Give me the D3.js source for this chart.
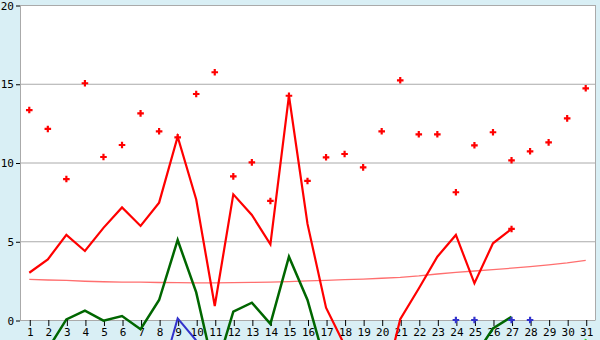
<!DOCTYPE html>
<html>
<head>
<meta charset="utf-8">
<script src="https://cdn.jsdelivr.net/npm/d3@7"></script>
<style>
  body { margin: 0; background: #d9eff5; }
  svg { display: block; }
</style>
</head>
<body>
<div id="chart"></div>
<script>
const days = [1,2,3,4,5,6,7,8,9,10,11,12,13,14,15,16,17,18,19,20,21,22,23,24,25,26,27,28,29,30,31];
const yTicks = [0, 5, 10, 15, 20];

// red dots
const redPoints = [13.33,12.13,8.95,15.03,10.35,11.11,13.12,11.98,11.6,14.35,15.73,9.12,10.01,7.56,14.24,
  8.83,10.33,10.54,9.69,11.98,15.22,11.79,11.79,8.11,11.09,11.92,10.14,10.71,11.28,12.8,14.71];
// red line
const redLine = [3.0,3.85,5.4,4.38,5.85,7.15,5.97,7.45,11.64,7.65,0.89,7.98,6.67,4.8,14.24,6.1,0.78,
  -1.6,-3.5,-4.7,0.05,2.0,4.02,5.4,2.33,4.87,5.78,null,null,null,null];
// pink trend
const pinkLine = [2.58,2.54,2.51,2.46,2.43,2.41,2.40,2.38,2.37,2.36,2.36,2.37,2.39,2.41,2.44,2.48,2.52,
  2.56,2.60,2.65,2.71,2.80,2.92,3.02,3.11,3.20,3.29,3.39,3.50,3.63,3.79];
// green line
const greenLine = [null,-1.85,0.04,0.59,-0.04,0.25,-0.59,1.27,5.08,1.75,-3.4,0.53,1.1,-0.25,4.02,1.27,-2.9,
  null,null,null,null,null,null,null,-2.33,-0.53,0.21,null,null,null,null];
// blue line and blue marks
const blueLine = [null,null,null,null,null,null,null,-4.0,0.1,-1.3,null,null,null,null,null,null,null,
  null,null,null,null,null,null,null,null,null,null,null,null,null,null];
const blueMarks = [null,null,null,null,null,null,null,null,null,null,null,null,null,null,null,null,null,
  null,null,null,null,null,null,0,0,null,0,0,null,null,null];
// light green
const lightGreenLine = [null,null,null,null,null,null,null,null,null,null,null,null,null,null,null,null,null,
  null,null,null,null,null,null,null,null,null,null,null,null,-8,-1.2];

const layout = { width: 600, height: 340, left: 20, right: 595, top: 5, bottom: 320 };

const svg = d3.select("#chart").append("svg")
    .attr("width", layout.width)
    .attr("height", layout.height)
    .style("font-family", "'DejaVu Sans Mono', monospace")
    .style("font-size", "11px");

svg.append("rect").attr("width", layout.width).attr("height", layout.height).attr("fill", "#d9eff5");

let x = d3.scalePoint().domain(days).range([layout.left, layout.right]).padding(0.5);
let y = d3.scaleLinear().domain([0, 20]).range([layout.bottom, layout.top]);

// plot area
svg.append("rect")
    .attr("x", layout.left).attr("y", layout.top)
    .attr("width", layout.right - layout.left).attr("height", layout.bottom - layout.top)
    .attr("fill", "white");

// grid lines
svg.append("g").selectAll("line").data(yTicks.filter(d => d > 0)).join("line")
    .attr("x1", layout.left).attr("x2", layout.right)
    .attr("y1", d => y(d) + 0.5).attr("y2", d => y(d) + 0.5)
    .attr("stroke", "#aaaaaa");

svg.append("line").attr("x1", layout.left + 0.5).attr("x2", layout.left + 0.5)
    .attr("y1", layout.top).attr("y2", layout.bottom)
    .attr("stroke", "#aaaaaa");
svg.append("line").attr("x1", layout.right + 0.5).attr("x2", layout.right + 0.5)
    .attr("y1", layout.top).attr("y2", layout.bottom + 0.5)
    .attr("stroke", "#aaaaaa");
svg.append("line").attr("x1", layout.left).attr("x2", layout.right)
    .attr("y1", layout.bottom + 0.5).attr("y2", layout.bottom + 0.5)
    .attr("stroke", "#aaaaaa");

// y axis
let yAxis = svg.append("g")
    .attr("transform", `translate(${layout.left},0.5)`)
    .call(d3.axisLeft(y).tickValues(yTicks).tickSize(4).tickPadding(2));
yAxis.select(".domain").remove();
yAxis.selectAll("line").attr("stroke", "black");
yAxis.selectAll("text").attr("fill", "black")
    .style("font-family", "'DejaVu Sans Mono', monospace").style("font-size", "11px");

// x axis
let xAxis = svg.append("g")
    .attr("transform", `translate(0.5,${layout.bottom})`)
    .call(d3.axisBottom(x).tickSize(6).tickPadding(2));
xAxis.select(".domain").remove();
xAxis.selectAll("line").attr("stroke", "black");
xAxis.selectAll("text").attr("fill", "black")
    .style("font-family", "'DejaVu Sans Mono', monospace").style("font-size", "11px");

function drawLine(values, color, width) {
    let line = d3.line()
        .defined(d => d[1] != null)
        .x(d => x(d[0]))
        .y(d => y(d[1]));
    svg.append("path")
        .datum(days.map((d, i) => [d, values[i]]))
        .attr("fill", "none")
        .attr("stroke", color)
        .attr("stroke-width", width)
        .attr("stroke-linejoin", "miter")
        .attr("d", line);
}

function drawMarks(values, color) {
    svg.append("g").selectAll("path")
        .data(days.map((d, i) => [d, values[i]]).filter(d => d[1] != null))
        .join("path")
        .attr("transform", d => `translate(${x(d[0])},${y(d[1])})`)
        .attr("d", d3.symbol(d3.symbolCross, 24))
        .attr("fill", color);
}

drawLine(pinkLine, "#ff6f6f", 1.3);
drawLine(lightGreenLine, "#33dd33", 2);
drawLine(blueLine, "#3333cc", 2);
drawLine(greenLine, "#006600", 2.5);
drawLine(redLine, "#ff0000", 2.2);

drawMarks(redPoints, "#ff0000");
drawMarks(redLine.map((v, i) => i == 26 ? v : null), "#ff0000");
drawMarks(blueMarks, "#3333cc");
</script>
</body>
</html>
